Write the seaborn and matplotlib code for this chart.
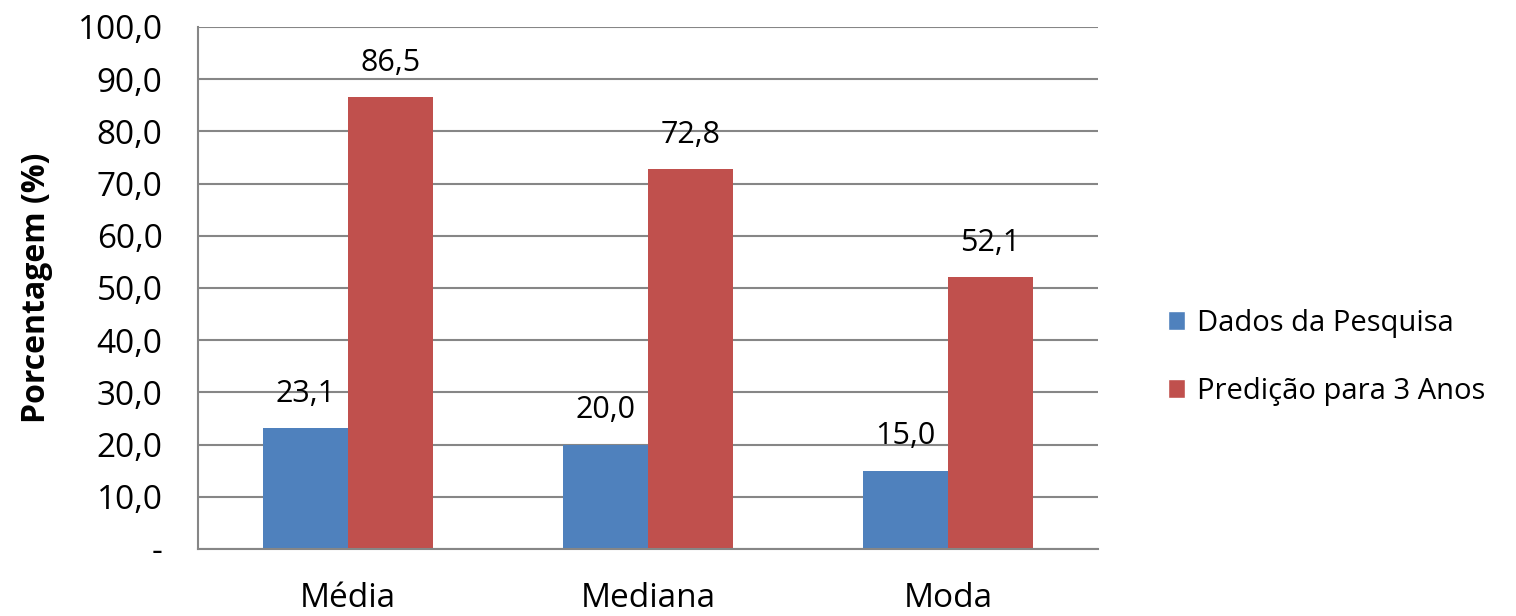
import pandas as pd
import numpy as np
import matplotlib
matplotlib.use("Agg")
import matplotlib.pyplot as plt
import seaborn as sns
from matplotlib.ticker import FuncFormatter
from matplotlib.patches import Patch

categorias = ["Média", "Mediana", "Moda"]
series = ["Dados da Pesquisa", "Predição para 3 Anos"]
dados_pesquisa = [23.1, 20.0, 15.0]
predicao_3_anos = [86.5, 72.8, 52.1]
cores = ["#4F81BD", "#C0504D"]

sns.set_style("white")
plt.rcParams["font.family"] = ["Open Sans", "DejaVu Sans"]
plt.rcParams["text.color"] = "black"
plt.rcParams["xtick.labelcolor"] = "black"
plt.rcParams["ytick.labelcolor"] = "black"
plt.rcParams["axes.labelcolor"] = "black"

df = pd.DataFrame({
    "Categoria": categorias * 2,
    "Serie": [series[0]] * 3 + [series[1]] * 3,
    "Valor": dados_pesquisa + predicao_3_anos,
})

fig = plt.figure(figsize=(15.16, 6.16), dpi=100)
ax = fig.add_axes([0.1306, 0.1088, 0.5937, 0.8474])

sns.barplot(data=df, x="Categoria", y="Valor", hue="Serie", palette=cores,
            width=0.567, saturation=1, linewidth=0, ax=ax, legend=False)

# rótulos de dados
for cont in ax.containers:
    for bar in cont:
        h = bar.get_height()
        ax.annotate(f"{h:.1f}".replace(".", ","),
                    (bar.get_x() + bar.get_width() / 2, h),
                    xytext=(0, 14), textcoords="offset points",
                    ha="center", va="bottom", fontsize=22)

ax.set_ylim(0, 100)
ax.set_xlim(-0.5, 2.5)
ax.set_yticks(np.arange(0, 101, 10))
ax.yaxis.set_major_formatter(FuncFormatter(
    lambda v, p: "-" if v == 0 else f"{v:.1f}".replace(".", ",")))

gcol = "#868686"
ax.yaxis.grid(True, color=gcol, linewidth=1.5)
ax.set_axisbelow(True)
for s in ["top", "right"]:
    ax.spines[s].set_visible(False)
for s in ["left", "bottom"]:
    ax.spines[s].set_color(gcol)
    ax.spines[s].set_linewidth(1.5)

ax.tick_params(axis="y", length=9.4, width=1.5, color=gcol, labelsize=24, pad=16)
ax.tick_params(axis="x", length=0, labelsize=24, pad=24)
ax.set_xlabel("")
ax.set_ylabel("Porcentagem (%)", fontsize=23, fontweight="bold", labelpad=18)

handles = [Patch(facecolor=c, label=s) for c, s in zip(cores, series)]
fig.legend(handles=handles, loc="center left", bbox_to_anchor=(0.753, 0.42),
           frameon=False, fontsize=21, handlelength=0.6, handleheight=0.6,
           handletextpad=0.4, labelspacing=1.35)

fig.savefig("out.png", dpi=100)
